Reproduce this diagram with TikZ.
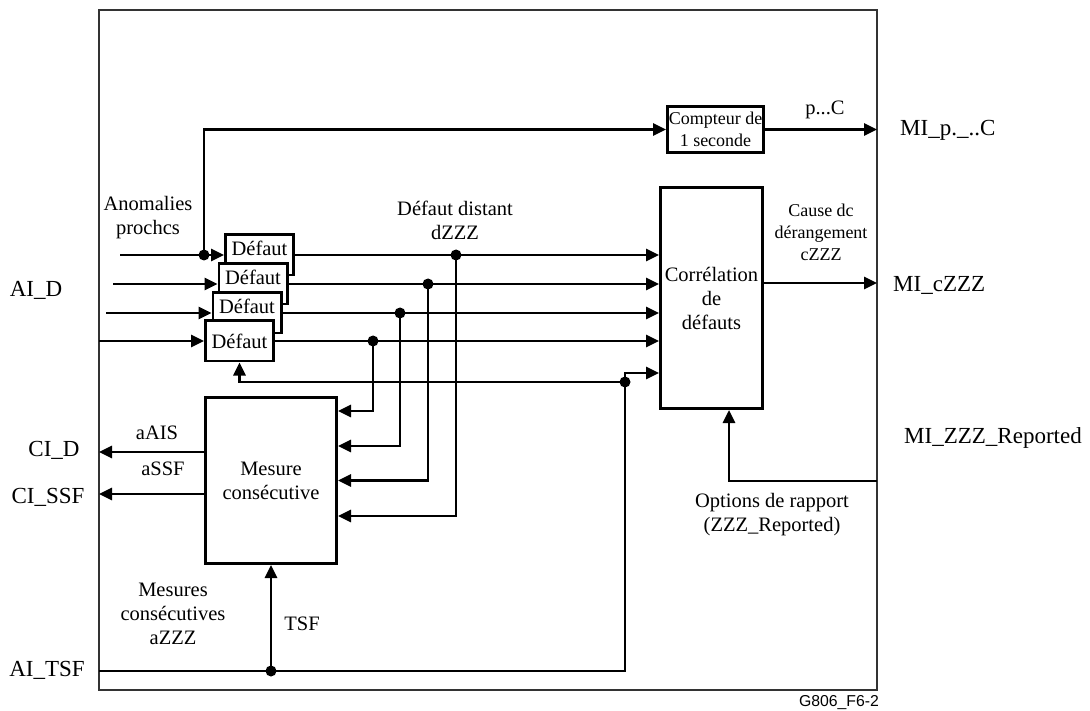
\documentclass[tikz,border=0pt]{standalone}
\usepackage{fontspec}
\setmainfont{Liberation Serif}
\newfontfamily\tagfont{Liberation Sans}
\usetikzlibrary{arrows.meta,positioning,calc}
\newcommand{\fsL}{\fontsize{23}{27}\selectfont}
\newcommand{\fsM}{\fontsize{20.5}{24}\selectfont}
\newcommand{\fsS}{\fontsize{18}{22}\selectfont}

\begin{document}
\begin{tikzpicture}[x=1pt, y=-1pt, >={Triangle[length=13pt,width=12pt]},
  wire/.style={line width=2.9pt},
  blk/.style={rectangle, draw, line width=2.9pt, fill=white, inner sep=0pt, align=center},
  defbox/.style={blk, minimum width=68.1pt, minimum height=40.1pt},
  jdot/.style={circle, fill, inner sep=0pt, minimum size=11pt},
  lbl/.style={font=\fsM, align=center, inner sep=0pt},
  ext/.style={font=\fsL, inner sep=0pt}]
  \useasboundingbox (0,0) rectangle (1090,711);
  % outer frame
  \draw[line width=1.2pt, black!80] (99,10) rectangle (877,690);
  \coordinate (lft) at (99,0);
  \coordinate (rgt) at (877,0);

  % blocks
  \node[blk, minimum width=96.1pt, minimum height=46.1pt, font=\fsS] (cpt) at (715.5,129.5)
    {Compteur de\\1 seconde};
  \node[blk, minimum width=102.1pt, minimum height=221.1pt, font=\fsM] (corr) at (711.5,298)
    {Corrélation\\de\\défauts};
  \node[blk, minimum width=131.1pt, minimum height=166.1pt, font=\fsM] (mes) at (271,480.5)
    {Mesure\\consécutive};
  \node[defbox, label={[lbl, yshift=7pt]center:Défaut}] (d1) at (259.5,255) {};
  \node[defbox, label={[lbl, yshift=7pt]center:Défaut}] (d2) at (253,284) {};
  \node[defbox, label={[lbl, yshift=7pt]center:Défaut}] (d3) at (247,313) {};
  \node[defbox, label={[lbl]center:Défaut}] (d4) at (239.5,341) {};

  % inputs
  \coordinate (in1) at (120,255);
  \coordinate (in2) at (113,284);
  \coordinate (in3) at (106,313);
  \node[jdot] (j0) at (204,255) {};
  \draw[wire, ->] (in1) -- (d1.west);
  \draw[wire, ->] (in2) -- (d2.west);
  \draw[wire, ->] (in3) -- (d3.west);
  \draw[wire, ->] (lft |- d4.west) -- (d4.west);
  \draw[wire, ->] (j0.center) |- (cpt.west);

  % defect outputs and branches
  \node[jdot] (j1) at (456,255) {};
  \node[jdot] (j2) at (428,284) {};
  \node[jdot] (j3) at (400,313) {};
  \node[jdot] (j4) at (373,341) {};
  \draw[wire, ->] (d1.east) -- (d1.east -| corr.west);
  \draw[wire, ->] (d2.east) -- (d2.east -| corr.west);
  \draw[wire, ->] (d3.east) -- (d3.east -| corr.west);
  \draw[wire, ->] (d4.east) -- (d4.east -| corr.west);
  \draw[wire, ->] (j1.center) |- ([yshift=-35.5pt]mes.east);
  \draw[wire, ->] (j2.center) |- (mes.east);
  \draw[wire, ->] (j3.center) |- ([yshift=34.5pt]mes.east);
  \draw[wire, ->] (j4.center) |- ([yshift=69.5pt]mes.east);

  % TSF
  \coordinate (tsf) at (99,671);
  \node[jdot] (jt) at (271,671) {};
  \node[jdot] (jf) at (625,382) {};
  \draw[wire] (tsf) -| (jf.center);
  \draw[wire, ->] (jf.center) |- ([yshift=-75pt]corr.west);
  \draw[wire, ->] (jf.center) -| (d4.south);
  \draw[wire, ->] (jt.center) -- (mes.south);

  % outputs
  \draw[wire, ->] ([yshift=28.5pt]mes.west) -- (lft |- {0,452});
  \draw[wire, ->] ([yshift=-13.5pt]mes.west) -- (lft |- {0,494});
  \draw[wire, ->] (cpt.east) -- (cpt.east -| rgt);
  \draw[wire, ->] ([yshift=15pt]corr.east) -- ([yshift=15pt]corr.east -| rgt);
  \coordinate (opt) at (877,481);
  \draw[wire, ->] (opt) -| ([xshift=17.5pt]corr.south);

  % labels
  \node[lbl] (anom) at (148,218) {Anomalies\\prochcs};
  \node[lbl] (dist) at (455,220) {Défaut distant\\dZZZ};
  \node[lbl] (pc) at (825,110) {p...C};
  \node[lbl, font=\fsS] (cause) at (821,232) {Cause dc\\dérangement\\cZZZ};
  \node[lbl] (opts) at (772,515) {Options de rapport\\(ZZZ\_Reported)};
  \node[lbl] (aais) at (157,433) {aAIS};
  \node[lbl] (assf) at (163,469) {aSSF};
  \node[lbl] (mzzz) at (173,614) {Mesures\\consécutives\\aZZZ};
  \node[lbl] (tsfl) at (302,624) {TSF};
  \node[ext] (aid) at (36,290) {AI\_D};
  \node[ext] (cid) at (54,450) {CI\_D};
  \node[ext] (cissf) at (48,497) {CI\_SSF};
  \node[ext] (aitsf) at (47,670) {AI\_TSF};
  \node[ext, anchor=west] (mipc) at (900,130) {MI\_p.\_..C};
  \node[ext, anchor=west] (micz) at (893,285) {MI\_cZZZ};
  \node[ext, anchor=west] (mirep) at (904,438) {MI\_ZZZ\_Reported};
  \node[font=\tagfont\fontsize{15.8}{18}\selectfont, inner sep=0pt] (tag) at (839,703) {G806\_F6-2};
\end{tikzpicture}
\end{document}
